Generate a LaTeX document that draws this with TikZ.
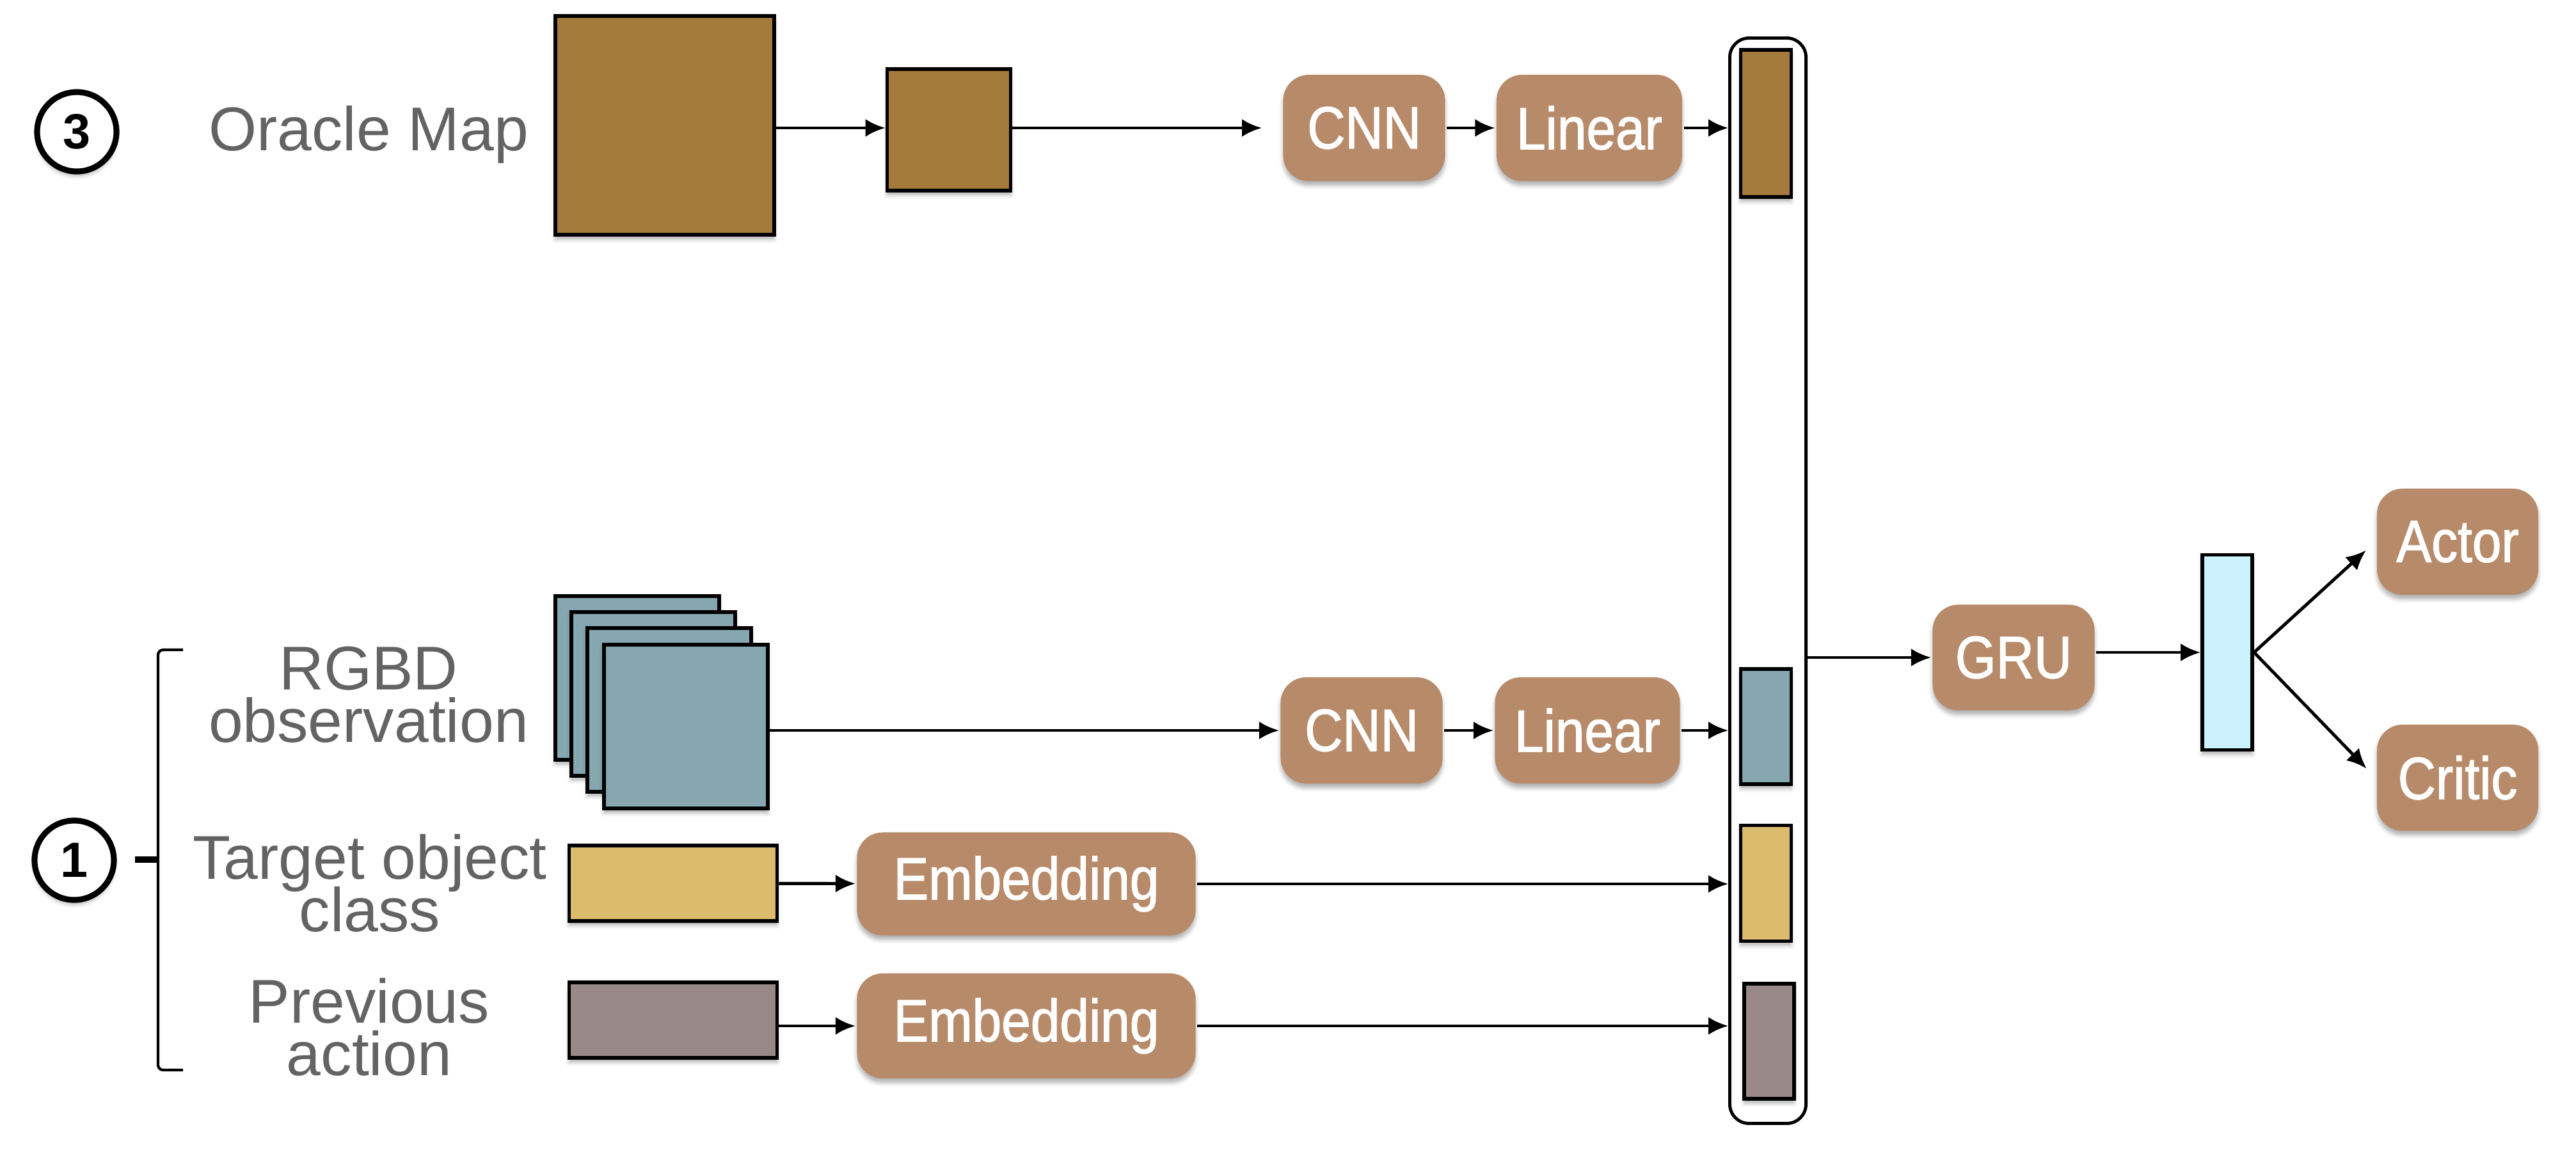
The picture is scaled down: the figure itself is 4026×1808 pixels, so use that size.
\documentclass[tikz,border=0pt]{standalone}
\usepackage{fontspec}
\setmainfont{Liberation Sans}
\newfontfamily\layerfont[FakeStretch=0.88,FakeBold=1.4]{Liberation Sans}
\usetikzlibrary{arrows.meta,shadows.blur}
\definecolor{mapbrown}{HTML}{A57B3C}
\definecolor{rgbdblue}{HTML}{86A7AF}
\definecolor{targetyellow}{HTML}{DCBB6C}
\definecolor{actiongray}{HTML}{998888}
\definecolor{hiddencyan}{HTML}{CCF2FD}
\definecolor{layerbrown}{HTML}{B78A69}
\definecolor{labelgray}{HTML}{636363}
\tikzset{>={Latex[length=3.1mm,width=2.8mm]}}

\begin{document}
\begin{tikzpicture}[x=0.01cm,y=-0.01cm,line width=1.4pt,
  soft/.style={blur shadow={shadow xshift=0pt,shadow yshift=-0.07cm,shadow blur radius=0.06cm,shadow opacity=30}},
  layer/.style={soft,fill=layerbrown,rounded corners=0.4cm,text=white,inner sep=0pt,
    minimum height=1.66cm,font=\layerfont\fontsize{26.5}{28}\selectfont},
  block/.style={soft,draw,line width=1.6pt,inner sep=0pt},
  inlabel/.style={text=labelgray,align=center,inner sep=0pt,
    font={\fontsize{27.5}{23.2}\selectfont\lineskiplimit=-20pt}},
  num/.style={soft,circle,draw,fill=white,line width=2.6pt,minimum size=1.24cm,inner sep=0pt,
    font=\bfseries\fontsize{22}{24}\selectfont}]
  \useasboundingbox (0,0) rectangle (4026,1808);

  % oracle map branch
  \node[num] (three) at (120,206) {3};
  \node[inlabel,anchor=base] (lblmap) at (576,235) {Oracle Map};
  \node[block,fill=mapbrown,minimum width=3.42cm,minimum height=3.42cm] (map) at (1039,196) {};
  \node[block,fill=mapbrown,minimum width=1.93cm,minimum height=1.90cm] (mapsmall) at (1483,203) {};
  \coordinate (cA) at (1972,200);
  \node[layer,minimum width=2.53cm] (cnnA) at (2132,200) {CNN};
  \node[layer,minimum width=2.90cm] (linA) at (2484,200) {Linear};

  % observations
  \node[num] (one) at (116,1345) {1};
  \draw[line width=1.2pt,rounded corners=0.08cm] (286,1016) -- (247,1016) -- (247,1673) -- (286,1673);
  \draw[line width=2.6pt] (211,1344) -- (247,1344);
  \node[inlabel] (lblrgbd) at (576,1086) {RGBD\\observation};
  \node[inlabel] (lbltarget) at (578,1381) {Target object\\class};
  \node[inlabel] (lblaction) at (577,1606) {Previous\\action};
  \foreach \i/\d in {1/0,2/25,3/50,4/76}
    \node[block,fill=rgbdblue,minimum width=2.56cm,minimum height=2.56cm] (rgbd\i) at (996+\d,1060+\d) {};
  \node[block,fill=targetyellow,minimum width=3.25cm,minimum height=1.18cm] (target) at (1052,1381) {};
  \node[block,fill=actiongray,minimum width=3.25cm,minimum height=1.18cm] (action) at (1052,1595) {};
  \node[layer,minimum width=2.53cm] (cnnB) at (2128,1142) {CNN};
  \node[layer,minimum width=2.89cm] (linB) at (2481,1142) {Linear};
  \node[layer,minimum width=5.29cm,minimum height=1.61cm] (embT) at (1604,1382) {Embedding};
  \node[layer,minimum width=5.29cm,minimum height=1.64cm] (embA) at (1604,1604) {Embedding};

  % concatenated features
  \node[draw,rounded corners=0.3cm,minimum width=1.19cm,minimum height=16.96cm] (feat) at (2763,908) {};
  \node[block,fill=mapbrown,minimum width=0.79cm,minimum height=2.30cm] (featmap) at (2760,193) {};
  \node[block,fill=rgbdblue,minimum width=0.79cm,minimum height=1.80cm] (featrgbd) at (2760,1136) {};
  \node[block,fill=targetyellow,minimum width=0.79cm,minimum height=1.81cm] (feattarget) at (2760,1381) {};
  \node[block,fill=actiongray,minimum width=0.78cm,minimum height=1.80cm] (featact) at (2765,1628) {};

  % recurrent part and heads
  \node[layer,minimum width=2.53cm,minimum height=1.65cm] (gru) at (3147,1028) {GRU};
  \node[block,fill=hiddencyan,minimum width=0.78cm,minimum height=3.05cm] (hid) at (3481,1020) {};
  \node[layer,minimum width=2.52cm] (actor) at (3841,847) {Actor};
  \node[layer,minimum width=2.52cm] (critic) at (3841,1216) {Critic};

  \draw[->] (map.east |- 0,200) -- (mapsmall.west |- 0,200);
  \draw[->] (mapsmall.east |- cA) -- (cA);
  \draw[->] (cnnA) -- (linA);
  \draw[->] (linA.east) -- (linA.east -| feat.west);
  \draw[->] (cnnB.west -| rgbd4.east) -- (cnnB.west);
  \draw[->] (cnnB) -- (linB);
  \draw[->] (linB.east) -- (linB.east -| feat.west);
  \draw[->] (target) -- (embT);
  \draw[->] (embT.east) -- (embT.east -| feat.west);
  \draw[->] (action.east |- embA) -- (embA.west);
  \draw[->] (embA.east) -- (embA.east -| feat.west);
  \draw[->] (feat.east |- gru) -- (gru.west);
  \draw[->] (gru.east |- 0,1020) -- (hid.west);
  \draw[->,shorten >=0.2cm] (hid.east) -- (actor.west);
  \draw[->,shorten >=0.2cm] (hid.east) -- (critic.west);
\end{tikzpicture}
\end{document}
